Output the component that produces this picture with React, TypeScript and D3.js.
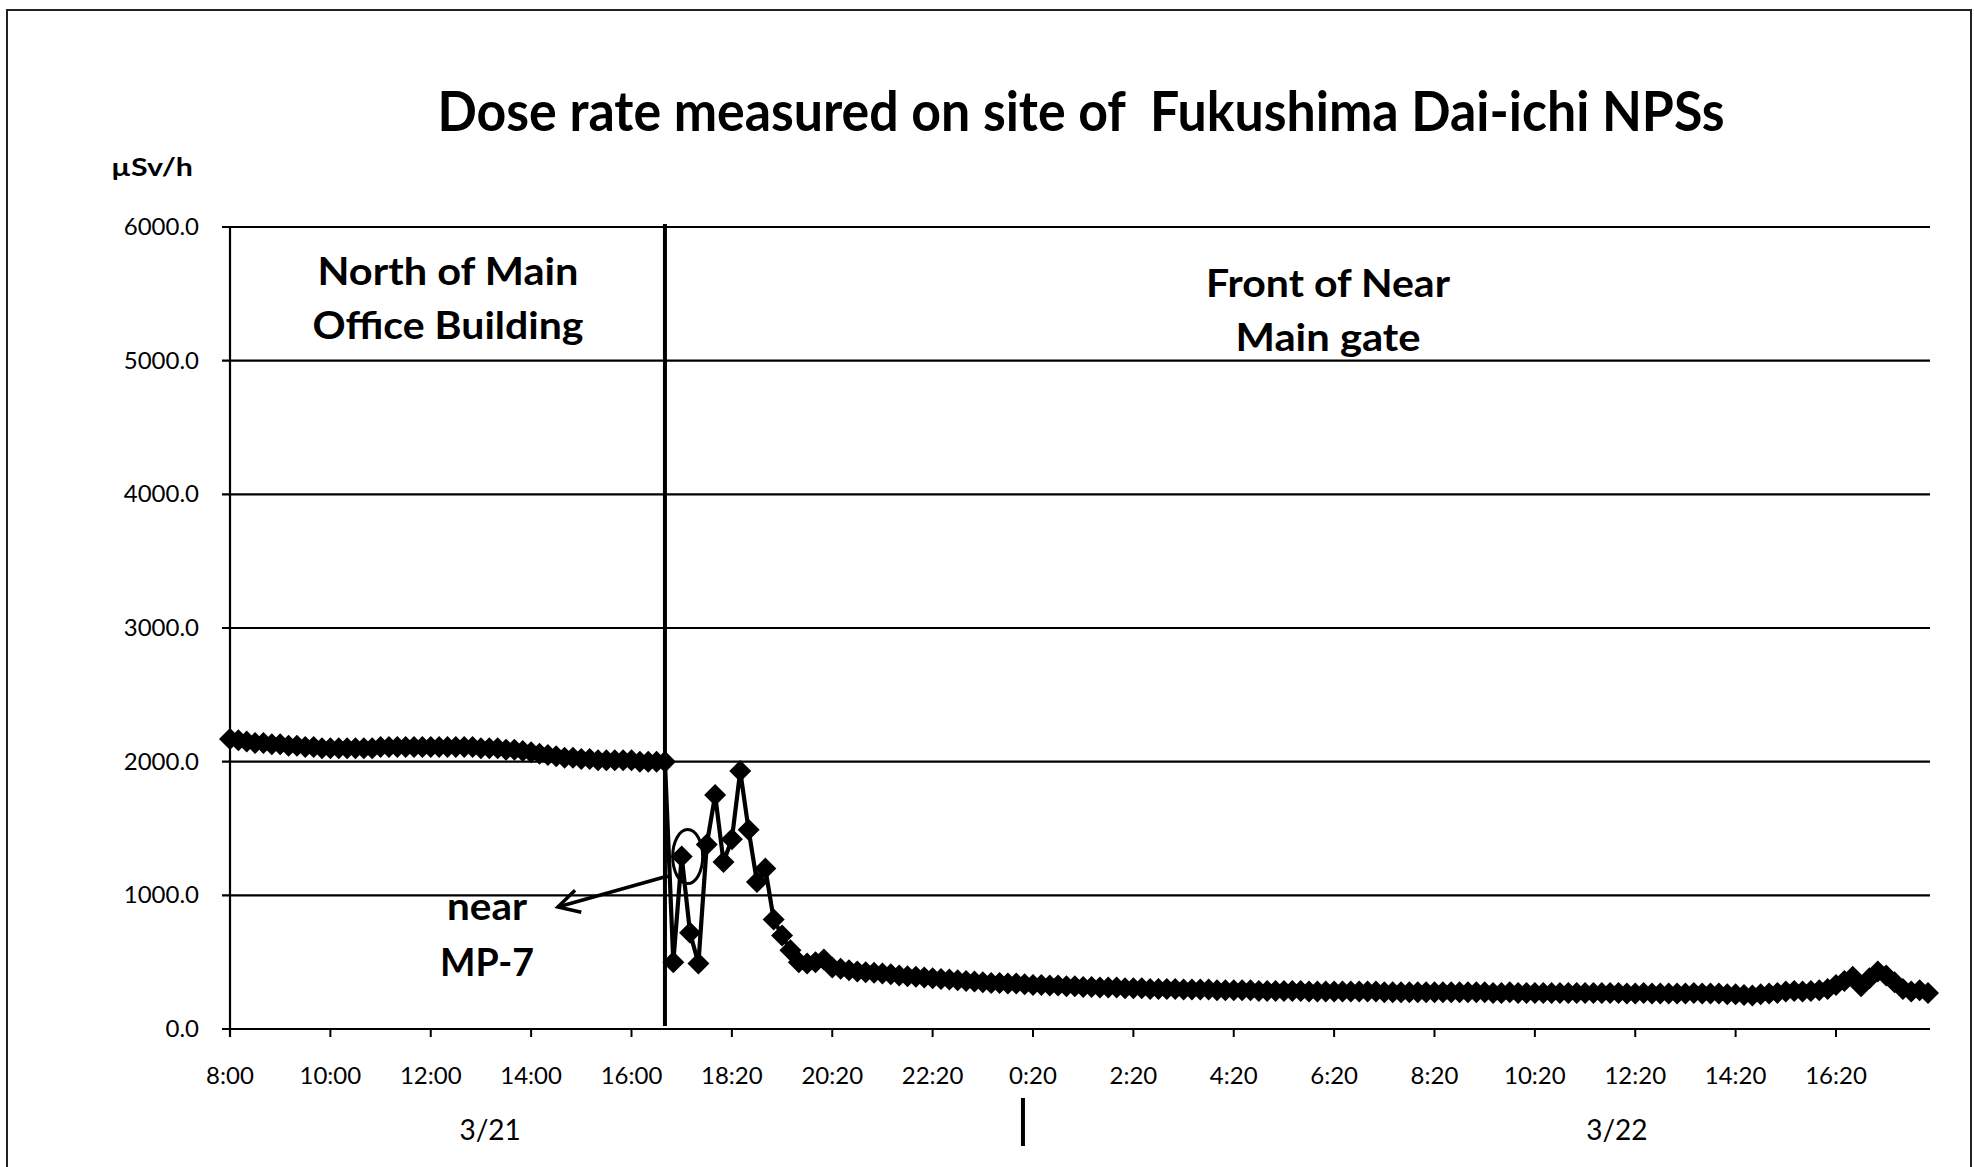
import React from 'react';
import * as d3 from 'd3';

// North of Main Office Building, 3/21 8:00 - 16:40 (10-minute steps)
const doseNorth = [
  2170, 2160, 2150, 2140, 2140, 2130, 2130, 2120, 2120, 2110,
  2110, 2100, 2100, 2100, 2100, 2100, 2100, 2100, 2110, 2110,
  2110, 2110, 2110, 2110, 2110, 2110, 2110, 2110, 2110, 2110,
  2100, 2100, 2100, 2090, 2090, 2080, 2070, 2060, 2050, 2040,
  2030, 2030, 2020, 2020, 2010, 2010, 2010, 2010, 2010, 2000,
  2000, 2000, 2000,
];

// near MP-7 / Front of Near Main gate
const doseGate = [
  500, 1290, 720, 490, 1380, 1750, 1250, 1420, 1930, 1490,
  1100, 1200, 820, 700, 590, 500, 490, 500, 520, 460,
  450, 440, 430, 425, 420, 415, 410, 400, 395, 390,
  385, 380, 375, 370, 365, 360, 355, 350, 345, 345,
  340, 340, 335, 330, 330, 325, 325, 320, 320, 315,
  315, 310, 310, 310, 305, 305, 305, 300, 300, 300,
  300, 295, 295, 295, 295, 290, 290, 290, 290, 290,
  285, 285, 285, 285, 285, 285, 280, 280, 280, 280,
  280, 280, 280, 280, 280, 275, 275, 275, 275, 275,
  275, 275, 275, 275, 275, 275, 275, 275, 270, 270,
  275, 270, 270, 270, 270, 270, 270, 270, 270, 270,
  270, 270, 270, 270, 265, 265, 270, 265, 265, 265,
  265, 265, 270, 265, 265, 265, 260, 260, 255, 250,
  260, 265, 270, 280, 285, 280, 285, 290, 300, 330,
  360, 390, 320, 380, 430, 400, 350, 300, 280, 290, 270,
];

const tickLabels = [
  '8:00', '10:00', '12:00', '14:00', '16:00', '18:20', '20:20', '22:20', '0:20',
  '2:20', '4:20', '6:20', '8:20', '10:20', '12:20', '14:20', '16:20',
];
const tickEvery = 12;
const yTicks = [0, 1000, 2000, 3000, 4000, 5000, 6000];
const dateLabels = [
  { label: '3/21', at: 31.1 },
  { label: '3/22', at: 165.8 },
];
const midnightAt = 94.8;
const circledIndex = 54;

const FONT = 'Lato, "Open Sans", sans-serif';

export default function App() {
  const W = 1974;
  const H = 1167;
  const values = doseNorth.concat(doseGate);
  const left = 230;
  const right = 1930;
  const x = d3.scaleLinear().domain([0, values.length - 1]).range([left, 1928]);
  const y = d3.scaleLinear().domain([0, 6000]).range([1029, 227]);
  const line = d3
    .line<number>()
    .x((_, i) => x(i))
    .y((d) => y(d));
  const r = 11;
  const diamond = `M0,${-r}L${r},0L0,${r}L${-r},0Z`;
  const dividerX = x(doseNorth.length - 1);

  // arrow from the circled group to the "near MP-7" label
  const arrowFrom: [number, number] = [dividerX + 3, y(1145)];
  const arrowTo: [number, number] = [x(39.2), y(913)];
  const ang = Math.atan2(arrowFrom[1] - arrowTo[1], arrowFrom[0] - arrowTo[0]);
  const hl = 24;
  const head1 = [arrowTo[0] + hl * Math.cos(ang + 0.5), arrowTo[1] + hl * Math.sin(ang + 0.5)];
  const head2 = [arrowTo[0] + hl * Math.cos(ang - 0.5), arrowTo[1] + hl * Math.sin(ang - 0.5)];

  return (
    <svg
      width={W}
      height={H}
      style={{ position: 'absolute', left: 0, top: 0, background: '#fff' }}
      fontFamily={FONT}
    >
      <rect x={0} y={0} width={W} height={H} fill="#fff" />
      {/* page frame */}
      <rect x={7} y={10} width={1964} height={1300} fill="none" stroke="#222" strokeWidth={2} />

      {/* title */}
      <text
        x={1081}
        y={131}
        textAnchor="middle"
        fontSize={55}
        fontWeight={700}
        textLength={1287}
        lengthAdjust="spacingAndGlyphs"
        fill="#000"
        style={{ whiteSpace: 'pre' }}
      >
        {'Dose rate measured on site of  Fukushima Dai-ichi NPSs'}
      </text>
      <text x={111} y={176} fontSize={25} fontWeight={700} textLength={82} lengthAdjust="spacingAndGlyphs">
        µSv/h
      </text>

      {/* gridlines and y labels */}
      {yTicks.map((t) => (
        <g key={t}>
          <line x1={left - 8} x2={right} y1={y(t)} y2={y(t)} stroke="#000" strokeWidth={2.2} />
          <text x={199} y={y(t) + 8} textAnchor="end" fontSize={24} fill="#000">
            {d3.format('.1f')(t)}
          </text>
        </g>
      ))}
      {/* y axis */}
      <line x1={left} x2={left} y1={y(6000)} y2={y(0) + 8} stroke="#000" strokeWidth={2.2} />

      {/* x ticks and labels */}
      {tickLabels.map((lab, k) => {
        const xi = x(k * tickEvery);
        return (
          <g key={lab + k}>
            <line x1={xi} x2={xi} y1={y(0)} y2={y(0) + 8} stroke="#000" strokeWidth={2} />
            <text x={xi} y={1084} textAnchor="middle" fontSize={24} fill="#000">
              {lab}
            </text>
          </g>
        );
      })}
      {dateLabels.map((d) => (
        <text key={d.label} x={x(d.at)} y={1140} textAnchor="middle" fontSize={28} fill="#000">
          {d.label}
        </text>
      ))}
      <line x1={x(midnightAt)} x2={x(midnightAt)} y1={1098} y2={1146} stroke="#000" strokeWidth={4} />

      {/* location divider */}
      <line x1={dividerX} x2={dividerX} y1={224} y2={1026} stroke="#000" strokeWidth={4} />

      {/* region labels */}
      <g fontSize={38} fontWeight={700} textAnchor="middle" fill="#000">
        <text x={448} y={285} textLength={261} lengthAdjust="spacingAndGlyphs">North of Main</text>
        <text x={448} y={339} textLength={271} lengthAdjust="spacingAndGlyphs">Office Building</text>
        <text x={1328} y={297} textLength={244} lengthAdjust="spacingAndGlyphs">Front of Near</text>
        <text x={1328} y={351} textLength={185} lengthAdjust="spacingAndGlyphs">Main gate</text>
        <text x={487} y={920} textLength={80} lengthAdjust="spacingAndGlyphs">near</text>
        <text x={487} y={976} textLength={94} lengthAdjust="spacingAndGlyphs">MP-7</text>
      </g>

      {/* series */}
      <path d={line(values) || ''} fill="none" stroke="#000" strokeWidth={4.2} strokeLinejoin="round" />
      {values.map((v, i) => (
        <path key={i} d={diamond} transform={`translate(${x(i)},${y(v)})`} fill="#000" />
      ))}

      {/* annotation */}
      <ellipse
        cx={x(circledIndex) + 6}
        cy={y(values[circledIndex])}
        rx={15}
        ry={27}
        fill="none"
        stroke="#000"
        strokeWidth={3}
      />
      <line x1={arrowFrom[0]} y1={arrowFrom[1]} x2={arrowTo[0]} y2={arrowTo[1]} stroke="#000" strokeWidth={3.5} />
      <polyline
        points={`${head1[0]},${head1[1]} ${arrowTo[0]},${arrowTo[1]} ${head2[0]},${head2[1]}`}
        fill="none"
        stroke="#000"
        strokeWidth={3.5}
      />
    </svg>
  );
}
